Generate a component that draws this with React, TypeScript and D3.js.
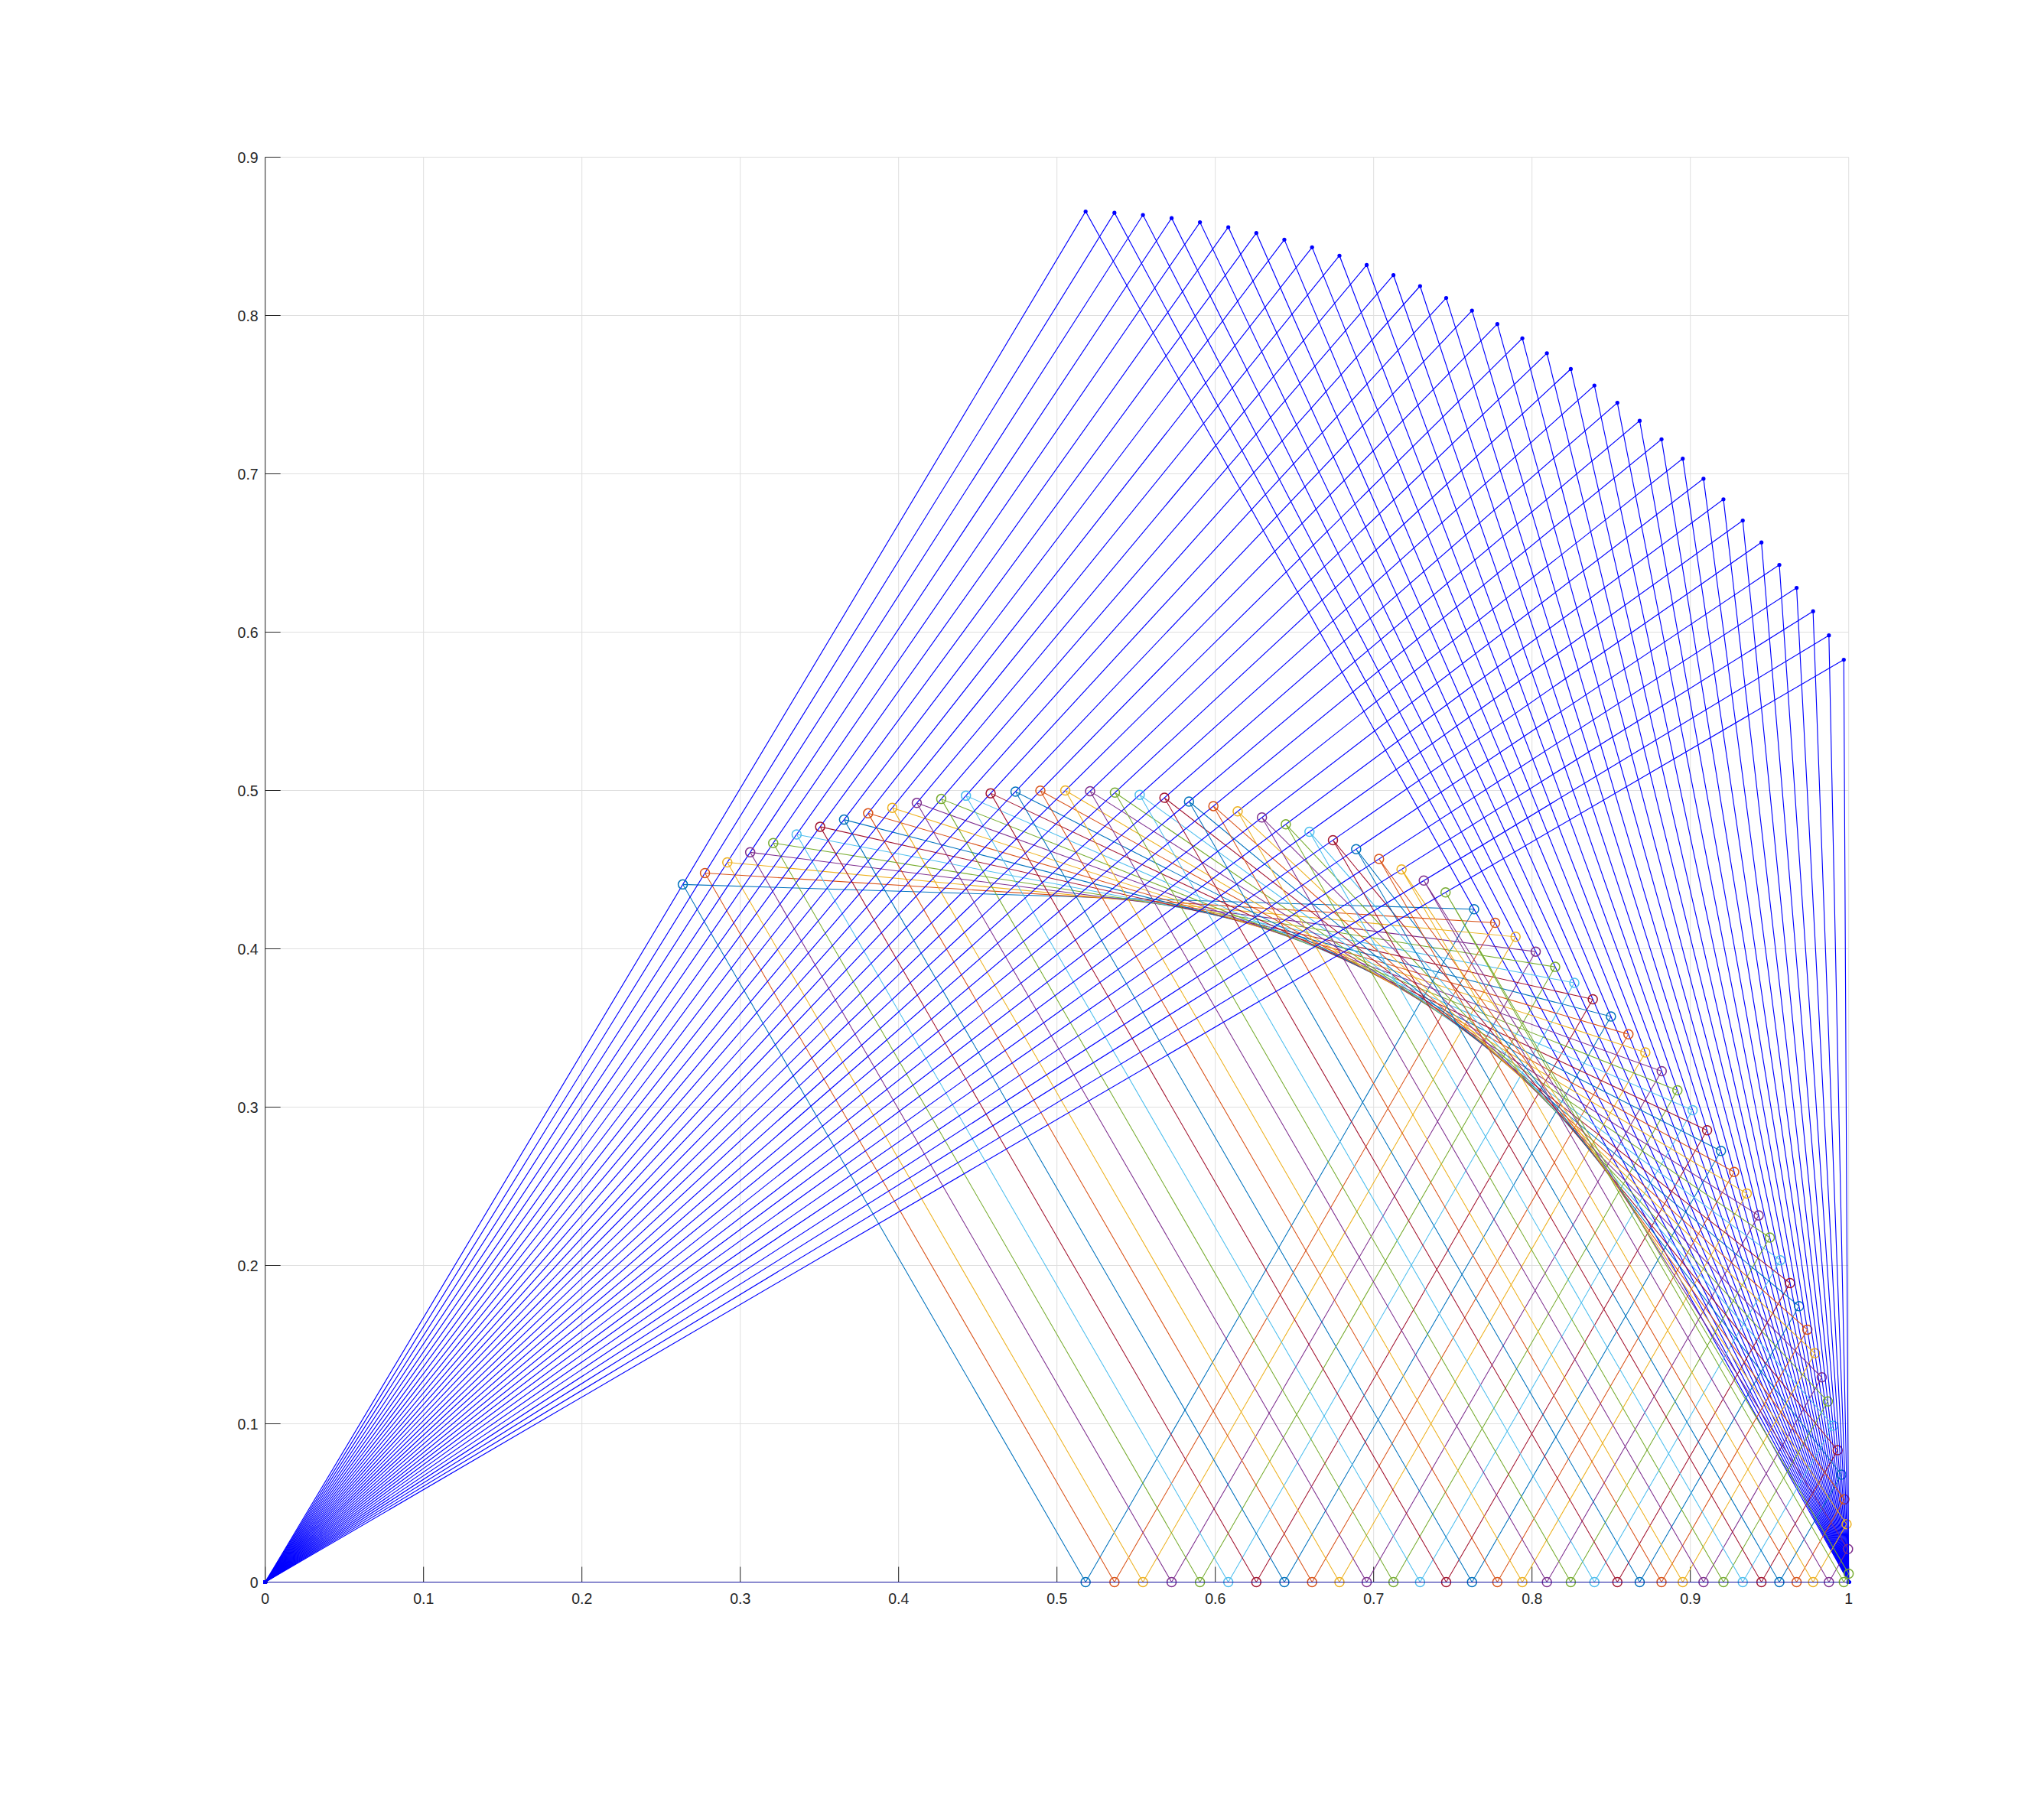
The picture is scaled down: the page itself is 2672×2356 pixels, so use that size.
import React from "react";
import * as d3 from "d3";

// Apex vertices of the 33 blue triangles (base from (0,0) to (1,0))
const apexX = [
  0.5181, 0.5363, 0.5543, 0.5724, 0.5903, 0.6082, 0.6259, 0.6436, 0.6611, 0.6784,
  0.6956, 0.7125, 0.7293, 0.7458, 0.7621, 0.7781, 0.7939, 0.8094, 0.8245, 0.8394,
  0.8539, 0.868, 0.8818, 0.8952, 0.9083, 0.9209, 0.9331, 0.9449, 0.9562, 0.9671,
  0.9775, 0.9875, 0.9969,
];
const apexY = [
  0.8657, 0.8649, 0.8635, 0.8615, 0.8589, 0.8558, 0.8521, 0.8479, 0.8431, 0.8378,
  0.8319, 0.8255, 0.8186, 0.8111, 0.8031, 0.7946, 0.7856, 0.7762, 0.7662, 0.7558,
  0.7449, 0.7335, 0.7218, 0.7096, 0.6969, 0.6839, 0.6705, 0.6567, 0.6425, 0.628,
  0.6132, 0.598, 0.5826,
];
const baseStart = [0, 0];
const baseEnd = [1, 0];

const seriesColors = ["#0072BD", "#D95319", "#EDB120", "#7E2F8E", "#77AC30", "#4DBEEE", "#A2142F"];

const xTicks = [0, 0.1, 0.2, 0.3, 0.4, 0.5, 0.6, 0.7, 0.8, 0.9, 1];
const xTickLabels = ["0", "0.1", "0.2", "0.3", "0.4", "0.5", "0.6", "0.7", "0.8", "0.9", "1"];
const yTicks = [0, 0.1, 0.2, 0.3, 0.4, 0.5, 0.6, 0.7, 0.8, 0.9];
const yTickLabels = ["0", "0.1", "0.2", "0.3", "0.4", "0.5", "0.6", "0.7", "0.8", "0.9"];

const W = 2672;
const H = 2356;
const L = 346.7;
const R = 2416.7;
const T = 205.5;
const B = 2068.5;

// feet of the altitudes (orthic triangle) of triangle O, A, Bp
function orthic(ax: number, ay: number): [number, number][] {
  const [ox, oy] = baseStart;
  const [bx, by] = baseEnd;
  const ex = bx - ox, ey = by - oy;
  const t1 = ((ax - ox) * ex + (ay - oy) * ey) / (ex * ex + ey * ey);
  const f1: [number, number] = [ox + t1 * ex, oy + t1 * ey];
  const ux = ax - ox, uy = ay - oy;
  const t2 = ((bx - ox) * ux + (by - oy) * uy) / (ux * ux + uy * uy);
  const f2: [number, number] = [ox + t2 * ux, oy + t2 * uy];
  const vx = ax - bx, vy = ay - by;
  const t3 = ((ox - bx) * vx + (oy - by) * vy) / (vx * vx + vy * vy);
  const f3: [number, number] = [bx + t3 * vx, by + t3 * vy];
  return [f2, f1, f3, f2];
}

export default function App() {
  const x = d3.scaleLinear().domain([0, 1]).range([L, R]);
  const y = d3.scaleLinear().domain([0, 0.9]).range([B, T]);
  const line = d3
    .line<[number, number]>()
    .x((d) => x(d[0]))
    .y((d) => y(d[1]));

  const font = "'Liberation Sans', Arial, Helvetica, sans-serif";
  const axisColor = "#262626";
  const gridColor = "#dfdfdf";

  return (
    <svg
      width={W}
      height={H}
      style={{ position: "absolute", left: 0, top: 0, background: "#fff" }}
    >
      <rect x={0} y={0} width={W} height={H} fill="#ffffff" />
      {/* grid */}
      <g>
        {xTicks.map((t) => (
          <line key={"gx" + t} x1={x(t)} x2={x(t)} y1={y(0)} y2={y(0.9)} stroke={gridColor} strokeWidth={1} />
        ))}
        {yTicks.map((t) => (
          <line key={"gy" + t} x1={x(0)} x2={x(1)} y1={y(t)} y2={y(t)} stroke={gridColor} strokeWidth={1} />
        ))}
      </g>
      {/* axes */}
      <g>
        <line x1={x(0)} x2={x(1)} y1={y(0)} y2={y(0)} stroke={axisColor} strokeWidth={1} />
        <line x1={x(0)} x2={x(0)} y1={y(0)} y2={y(0.9)} stroke={axisColor} strokeWidth={1} />
        {xTicks.map((t) => (
          <line key={"tx" + t} x1={x(t)} x2={x(t)} y1={y(0)} y2={y(0) - 20} stroke={axisColor} strokeWidth={1} />
        ))}
        {yTicks.map((t) => (
          <line key={"ty" + t} x1={x(0)} x2={x(0) + 20} y1={y(t)} y2={y(t)} stroke={axisColor} strokeWidth={1} />
        ))}
        {xTicks.map((t, i) => (
          <text
            key={"lx" + t}
            x={x(t)}
            y={y(0) + 28.5}
            textAnchor="middle"
            fontFamily={font}
            fontSize={19.5}
            fill={axisColor}
          >
            {xTickLabels[i]}
          </text>
        ))}
        {yTicks.map((t, i) => (
          <text
            key={"ly" + t}
            x={x(0) - 9}
            y={y(t) + 7}
            textAnchor="end"
            fontFamily={font}
            fontSize={19.5}
            fill={axisColor}
          >
            {yTickLabels[i]}
          </text>
        ))}
      </g>
      {/* data */}
      <g>
        {apexX.map((ax, i) => {
          const ay = apexY[i];
          const tri: [number, number][] = [
            [baseStart[0], baseStart[1]],
            [ax, ay],
            [baseEnd[0], baseEnd[1]],
            [baseStart[0], baseStart[1]],
          ];
          const feet = orthic(ax, ay);
          const c = seriesColors[i % seriesColors.length];
          return (
            <g key={"k" + i}>
              <path d={line(tri) || ""} fill="none" stroke="#0000ff" strokeWidth={1.15} />
              {tri.slice(0, 3).map((p, j) => (
                <circle key={"d" + j} cx={x(p[0])} cy={y(p[1])} r={2.6} fill="#0000ff" />
              ))}
              <path d={line(feet) || ""} fill="none" stroke={c} strokeWidth={1.05} />
              {feet.slice(0, 3).map((p, j) => (
                <circle
                  key={"o" + j}
                  cx={x(p[0])}
                  cy={y(p[1])}
                  r={6}
                  fill="none"
                  stroke={c}
                  strokeWidth={1.5}
                />
              ))}
            </g>
          );
        })}
      </g>
      {/* axis line showing through the base segment */}
      <line x1={x(0)} x2={x(1)} y1={y(0)} y2={y(0)} stroke={axisColor} strokeWidth={1} strokeOpacity={0.45} />
    </svg>
  );
}
